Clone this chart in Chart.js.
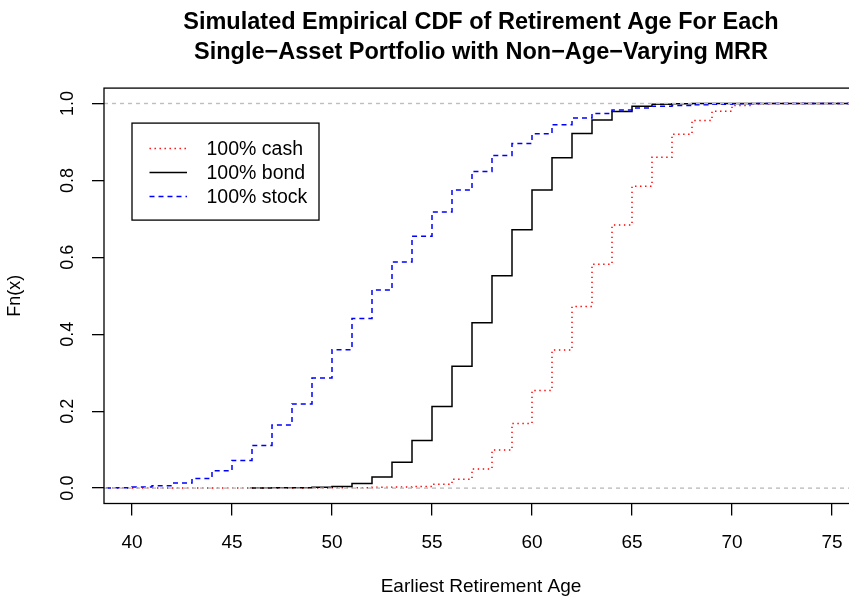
<!DOCTYPE html>
<html>
<head>
<meta charset="utf-8">
<script src="https://cdn.jsdelivr.net/npm/chart.js@4.4.1/dist/chart.umd.min.js"></script>
<style>
  html, body { margin: 0; padding: 0; background: #ffffff; overflow: hidden; width: 849px; height: 598px; }
  #wrap { position: absolute; left: 0; top: 0; width: 962px; height: 598px; }
</style>
</head>
<body>
<div id="wrap"><canvas id="cdf" width="962" height="598"></canvas></div>
<script>
// ---- text ----
const chartTitle = [
  'Simulated Empirical CDF of Retirement Age For Each',
  'Single\u2212Asset Portfolio with Non\u2212Age\u2212Varying MRR'
];
const xTitle = 'Earliest Retirement Age';
const yTitle = 'Fn(x)';
const seriesLabels = ['100% cash', '100% bond', '100% stock'];

// ---- axes ----
const xTicks = [40, 45, 50, 55, 60, 65, 70, 75];
const yTicks = [0, 0.2, 0.4, 0.6, 0.8, 1.0];
const xRange = [38.6, 76.3];
const yRange = [-0.04, 1.04];
const refLevels = [0, 1];

// ---- empirical CDFs: age at each jump and Fn(age) just after it ----
const cashAges = [36, 50, 52, 53, 54, 55, 56, 57, 58, 59, 60, 61, 62, 63, 64, 65, 66, 67, 68, 69, 70, 71, 72, 80];
const cashCdf  = [0, 0.001, 0.002, 0.003, 0.004, 0.010, 0.023, 0.050, 0.099, 0.168, 0.254, 0.359, 0.472, 0.582, 0.684, 0.785, 0.860, 0.920, 0.956, 0.980, 0.995, 0.999, 1.0, 1.0];

const bondAges = [45.9, 47, 48, 49, 50, 51, 52, 53, 54, 55, 56, 57, 58, 59, 60, 61, 62, 63, 64, 65, 66, 67, 68, 80];
const bondCdf  = [0, 0.001, 0.001, 0.002, 0.004, 0.012, 0.029, 0.067, 0.124, 0.212, 0.317, 0.430, 0.552, 0.672, 0.775, 0.859, 0.922, 0.957, 0.979, 0.993, 0.998, 0.999, 1.0, 1.0];

const stockAges = [36, 39, 40, 41, 42, 43, 44, 45, 46, 47, 48, 49, 50, 51, 52, 53, 54, 55, 56, 57, 58, 59, 60, 61, 62, 63, 64, 65, 66, 67, 68, 69, 70, 71, 80];
const stockCdf  = [0, 0.001, 0.003, 0.006, 0.013, 0.025, 0.045, 0.072, 0.111, 0.164, 0.219, 0.286, 0.360, 0.441, 0.515, 0.588, 0.655, 0.718, 0.775, 0.823, 0.865, 0.896, 0.921, 0.945, 0.962, 0.974, 0.983, 0.988, 0.993, 0.995, 0.997, 0.998, 0.999, 1.0, 1.0];

const FONT = '"Liberation Sans", Arial, Helvetica, sans-serif';
Chart.defaults.font.family = FONT;
Chart.defaults.color = '#000000';

const toPoints = (ages, cdf) => ages.map((a, i) => ({ x: a, y: cdf[i] }));

// dashed grey reference lines at Fn = 0 and Fn = 1, then the plot frame
const framePlugin = {
  id: 'frame',
  afterDatasetsDraw(chart) {
    const { ctx, chartArea: ca, scales } = chart;
    ctx.save();
    ctx.strokeStyle = '#bebebe';
    ctx.lineWidth = 1.4;
    ctx.setLineDash([4, 4]);
    refLevels.forEach(v => {
      const py = scales.y.getPixelForValue(v);
      ctx.beginPath();
      ctx.moveTo(ca.left, py);
      ctx.lineTo(ca.right, py);
      ctx.stroke();
    });
    ctx.setLineDash([]);
    ctx.strokeStyle = '#000000';
    ctx.lineWidth = 1.3;
    ctx.strokeRect(ca.left, ca.top, ca.right - ca.left, ca.bottom - ca.top);
    ctx.restore();
  }
};

// boxed legend in the upper-left of the plot
const boxLegend = {
  id: 'boxLegend',
  afterDraw(chart) {
    const { ctx, chartArea: ca } = chart;
    const left = ca.left + 28, top = ca.top + 35, w = 187, h = 97;
    ctx.save();
    ctx.fillStyle = '#ffffff';
    ctx.fillRect(left, top, w, h);
    ctx.strokeStyle = '#000000';
    ctx.lineWidth = 1.3;
    ctx.strokeRect(left, top, w, h);
    ctx.font = '19.5px ' + FONT;
    ctx.textBaseline = 'middle';
    ctx.textAlign = 'left';
    chart.data.datasets.forEach((ds, i) => {
      const y = top + 25.5 + i * 24;
      ctx.strokeStyle = ds.borderColor;
      ctx.lineWidth = ds.borderWidth;
      ctx.setLineDash(ds.borderDash || []);
      ctx.beginPath();
      ctx.moveTo(left + 17.5, y);
      ctx.lineTo(left + 55, y);
      ctx.stroke();
      ctx.setLineDash([]);
      ctx.fillStyle = '#000000';
      ctx.fillText(ds.label, left + 74.5, y + 1);
    });
    ctx.restore();
  }
};

const lineBase = { fill: false, pointRadius: 0, stepped: 'before', borderWidth: 1.5, tension: 0 };

new Chart(document.getElementById('cdf'), {
  type: 'line',
  data: {
    datasets: [
      { ...lineBase, label: seriesLabels[0], data: toPoints(cashAges, cashCdf),
        borderColor: '#ff0000', borderDash: [1.4, 3.6], order: 2 },
      { ...lineBase, label: seriesLabels[1], data: toPoints(bondAges, bondCdf),
        borderColor: '#000000', order: 1 },
      { ...lineBase, label: seriesLabels[2], data: toPoints(stockAges, stockCdf),
        borderColor: '#0000ff', borderDash: [5, 4], order: 0 }
    ]
  },
  options: {
    responsive: false,
    animation: false,
    devicePixelRatio: 1,
    layout: { padding: 0 },
    plugins: {
      legend: { display: false },
      tooltip: { enabled: false },
      title: {
        display: true,
        text: chartTitle,
        color: '#000000',
        font: { size: 23.5, weight: 'bold', lineHeight: 1.3 },
        padding: { top: 7, bottom: 20 }
      }
    },
    scales: {
      x: {
        type: 'linear',
        position: 'bottom',
        min: xRange[0],
        max: xRange[1],
        afterBuildTicks: s => { s.ticks = xTicks.map(v => ({ value: v })); },
        afterFit: s => { s.height = 94.5; s.paddingLeft = 0; s.paddingRight = 0; },
        grid: { display: true, drawOnChartArea: false, drawTicks: true, tickLength: 12,
                color: '#000000', tickColor: '#000000', lineWidth: 1.3, tickWidth: 1.3 },
        border: { display: false },
        ticks: { color: '#000000', font: { size: 19 }, padding: 16, maxRotation: 0, autoSkip: false,
                 callback: v => String(v) },
        title: { display: true, text: xTitle, color: '#000000', font: { size: 19 },
                 padding: { top: 0, bottom: 0 } }
      },
      y: {
        type: 'linear',
        position: 'left',
        min: yRange[0],
        max: yRange[1],
        afterBuildTicks: s => { s.ticks = yTicks.map(v => ({ value: v })); },
        afterFit: s => { s.width = 104; s.paddingTop = 0; s.paddingBottom = 0; },
        grid: { display: true, drawOnChartArea: false, drawTicks: true, tickLength: 12,
                color: '#000000', tickColor: '#000000', lineWidth: 1.3, tickWidth: 1.3 },
        border: { display: false },
        ticks: { color: '#000000', font: { size: 18 }, padding: 11, minRotation: 90, maxRotation: 90,
                 crossAlign: 'center', autoSkip: false, callback: v => Number(v).toFixed(1) },
        title: { display: true, text: yTitle, color: '#000000', font: { size: 18 },
                 padding: { top: 4, bottom: 0 } }
      },
      yRight: {
        type: 'linear',
        position: 'right',
        display: true,
        grid: { display: false },
        border: { display: false },
        ticks: { display: false },
        afterFit: s => { s.width = 104; s.paddingTop = 0; s.paddingBottom = 0; }
      }
    }
  },
  plugins: [framePlugin, boxLegend]
});
</script>
</body>
</html>
